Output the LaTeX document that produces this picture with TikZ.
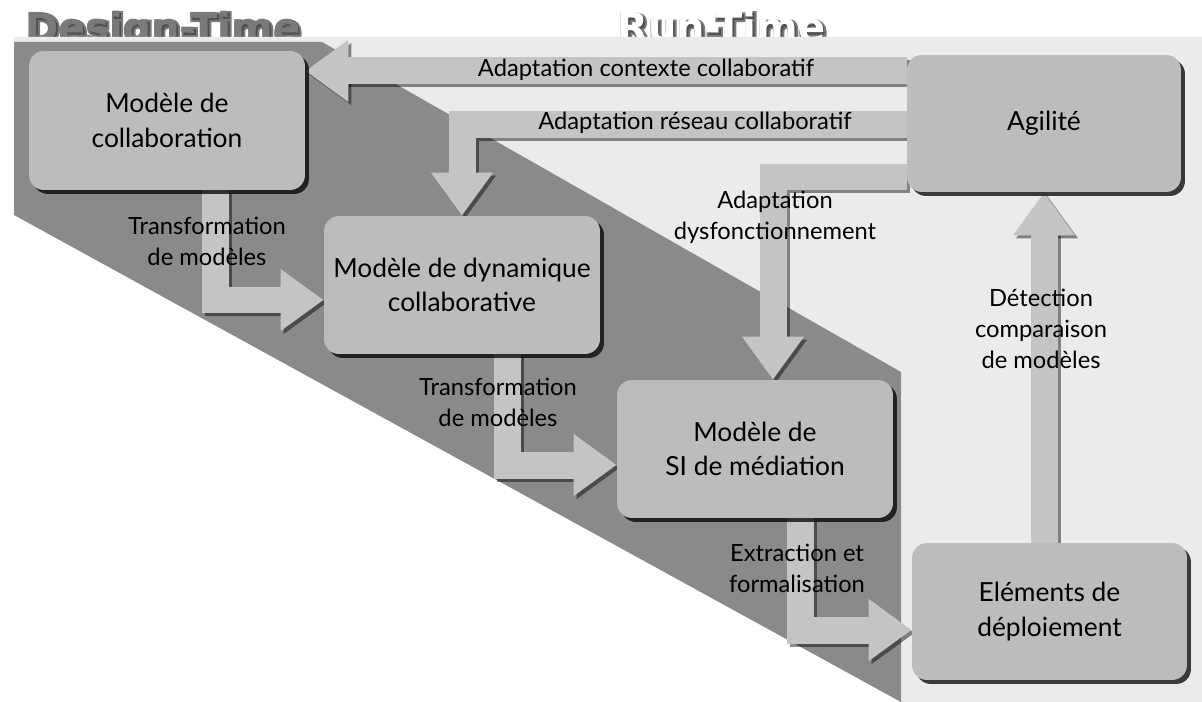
\documentclass[tikz,border=0pt]{standalone}
\usepackage{fontspec}
\setmainfont{Lato}
\newfontfamily\titlefont{DejaVu Sans Bold}
\newfontfamily\titleglowfont{DejaVu Sans Bold}[FakeBold=10]
\usetikzlibrary{arrows.meta,shadows,calc}
\definecolor{lightbg}{HTML}{EBEBEB}
\definecolor{darkbg}{HTML}{8A8A8A}
\definecolor{boxgray}{HTML}{BCBCBC}
\definecolor{arrowgray}{HTML}{C4C4C4}
\definecolor{titlegray}{HTML}{7A7A7A}
\pgfdeclarelayer{bg}
\pgfdeclarelayer{arr}
\pgfsetlayers{bg,arr,main}
\begin{document}
\begin{tikzpicture}[x=0.02cm,y=-0.02cm,
  box/.style={fill=boxgray, rounded corners=0.3cm, align=center, inner sep=0pt,
    font=\fontsize{15}{19.8}\selectfont,
    drop shadow={shadow xshift=0.08cm, shadow yshift=-0.08cm, opacity=0.75, fill=black}},
  flow/.style={draw=arrowgray, line width=0.54cm, line cap=butt, line join=miter,
    -{Triangle[width=1.18cm,length=0.86cm]}},
  flowshadow/.style={flow, draw=black, opacity=0.45, transform canvas={shift={(3,3)}}},
  lbl/.style={font=\fontsize{13.5}{17.6}\selectfont, align=center},
  title/.style={anchor=base west, inner sep=0pt, font=\titlefont\fontsize{22.7}{27}\selectfont},
  titleglow/.style={anchor=base west, inner sep=0pt, text=black!75, opacity=0.7,
    font=\titleglowfont\fontsize{22.7}{27}\selectfont}]
\useasboundingbox (0,0) rectangle (1202,702);

% titles (partly hidden by the background bands)
\begin{pgfonlayer}{bg}
\node[titleglow] (dtglow) at (26.5,43.5) {Design-Time};
\node[titleglow] (rtglow) at (618.5,43.5) {Run-Time};
\node[title, text=titlegray] (dt) at (25,42) {Design-Time};
\node[title, text=white] (rt) at (617,42) {Run-Time};
\fill[lightbg] (14,37) -- (1202,37) -- (1202,702) -- (901,702) -- (14,215) -- cycle;
\fill[darkbg] (14,42) -- (322,42) -- (901,372) -- (901,702) -- (14,215) -- cycle;
\end{pgfonlayer}

% boxes
\node[box, minimum width=5.52cm, minimum height=2.78cm] (collab) at (167,120.5) {Modèle de\\collaboration};
\node[box, minimum width=5.48cm, minimum height=2.74cm] (agil) at (1044,123.5) {Agilité};
\node[box, minimum width=5.52cm, minimum height=2.76cm] (dyn) at (462,285) {Modèle de dynamique\\collaborative};
\node[box, minimum width=5.52cm, minimum height=2.76cm] (sim) at (755,449) {Modèle de\\SI de médiation};
\node[box, minimum width=5.50cm, minimum height=2.74cm] (dep) at (1049.5,611.5) {Eléments de\\déploiement};

% bend coordinates
\coordinate (aY) at (0,71);
\coordinate (bY) at (0,125);
\coordinate (cP) at (773,177);
\coordinate (dP) at (215,300);
\coordinate (eP) at (507,465);
\coordinate (fP) at (800,630);

\begin{pgfonlayer}{arr}
\foreach \s in {flowshadow,flow}{
  \draw[\s] (agil.west |- aY) -- (collab.east |- aY);
  \draw[\s] (agil.west |- bY) -| (dyn.north);
  \draw[\s] (agil.west |- cP) -| (sim.north -| cP);
  \draw[\s] (collab.south -| dP) |- (dyn.west |- dP);
  \draw[\s] (dyn.south -| eP) |- (sim.west |- eP);
  \draw[\s] (sim.south -| fP) |- (dep.west |- fP);
  \draw[\s] (agil.south |- dep.north) -- (agil.south);
}
\end{pgfonlayer}

% labels
\node[lbl] (la) at (646,70) {Adaptation contexte collaboratif};
\node[lbl] (lb) at (695,123) {Adaptation réseau collaboratif};
\node[lbl] (lc) at (775,217) {Adaptation\\dysfonctionnement};
\node[lbl] (ld) at (207,241) {Transformation\\de modèles};
\node[lbl] (le) at (498,402) {Transformation\\de modèles};
\node[lbl] (lf) at (797,568) {Extraction et\\formalisation};
\node[lbl] (lg) at (1041,329) {Détection\\comparaison\\de modèles};
\end{tikzpicture}
\end{document}
